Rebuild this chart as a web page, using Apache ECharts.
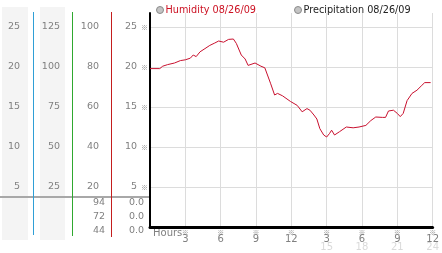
<!DOCTYPE html>
<html><head><meta charset="utf-8">
<script src="https://cdn.jsdelivr.net/npm/echarts@6/dist/echarts.min.js"></script>
<style>html,body{margin:0;padding:0;background:#fff}#c{width:442px;height:253px}</style>
</head><body><div id="c"></div>
<script>
// ---- data ----
const seriesNames = ['Humidity 08/26/09', 'Precipitation 08/26/09'];
const hours = [0, 0.83, 1.08, 1.5, 2.08, 2.58, 3.0, 3.42, 3.67, 3.92, 4.25, 4.67, 5.08, 5.5, 5.83, 6.25, 6.67, 7.08, 7.33, 7.75, 8.08, 8.33, 8.92, 9.42, 9.75, 10.25, 10.58, 10.83, 11.25, 11.92, 12.5, 12.92, 13.33, 13.58, 13.92, 14.17, 14.42, 14.75, 15.0, 15.25, 15.42, 15.67, 16.08, 16.67, 17.25, 17.75, 18.33, 18.75, 19.17, 19.75, 20.0, 20.25, 20.67, 21.0, 21.25, 21.5, 21.83, 22.25, 22.67, 23.08, 23.33, 23.83];
const humidity = [19.8, 19.8, 20.1, 20.3, 20.5, 20.8, 20.9, 21.1, 21.5, 21.3, 21.9, 22.3, 22.7, 23.0, 23.25, 23.1, 23.45, 23.5, 22.95, 21.5, 21.0, 20.2, 20.5, 20.1, 19.9, 17.9, 16.5, 16.7, 16.4, 15.7, 15.2, 14.4, 14.8, 14.6, 14.0, 13.5, 12.3, 11.5, 11.25, 11.7, 12.1, 11.5, 11.9, 12.5, 12.4, 12.5, 12.7, 13.3, 13.75, 13.7, 13.7, 14.5, 14.6, 14.2, 13.8, 14.2, 15.8, 16.7, 17.1, 17.7, 18.05, 18.05];
const precipitation = [];
const hourTicks12 = {3:'3',6:'6',9:'9',12:'12',15:'3',18:'6',21:'9',24:'12'};
const hourTicks24 = {15:'15',18:'18',21:'21',24:'24'};
const humidityStats = ['94', '72', '44'];
const precipStats = ['0.0', '0.0', '0.0'];
const axisScales = [1, 5, 4, 1]; // left label columns relative to plot units

// ---- chart ----
const FONT = 'DejaVu Sans';
const YMAX = 26.75;
const chart = echarts.init(document.getElementById('c'), null, {renderer: 'canvas'});

function colAxis(scale, offset) {
  return {
    type: 'value', position: 'left', offset: offset,
    min: 0, max: YMAX * scale, interval: 5 * scale,
    axisLine: {show: false}, axisTick: {show: false}, splitLine: {show: false},
    axisLabel: {showMinLabel: false, showMaxLabel: false, margin: 0,
      color: '#808080', fontSize: 9.5, fontFamily: FONT}
  };
}

const statText = [];
const rowY = [204, 218, 232];
humidityStats.forEach((t, i) => statText.push({type: 'text', right: 442 - 105, top: rowY[i] - 6,
  style: {text: t, fill: '#808080', font: '9.5px ' + FONT}}));
precipStats.forEach((t, i) => statText.push({type: 'text', right: 442 - 144, top: rowY[i] - 6,
  style: {text: t, fill: '#808080', font: '9.5px ' + FONT}}));

chart.setOption({
  animation: false,
  textStyle: {fontFamily: FONT},
  grid: {left: 150, right: 4, top: 13, bottom: 26, containLabel: false},
  legend: {
    left: 151, top: 0, itemGap: 38, icon: 'circle', itemWidth: 7, itemHeight: 7,
    selectedMode: false,
    textStyle: {fontSize: 9.7, fontFamily: FONT, padding: [0, 0, 0, -3]},
    data: [
      {name: seriesNames[0], itemStyle: {color: '#c4c4c4', borderColor: '#8a8a8a', borderWidth: 1}, textStyle: {color: '#cc1122'}},
      {name: seriesNames[1], itemStyle: {color: '#c4c4c4', borderColor: '#8a8a8a', borderWidth: 1}, textStyle: {color: '#222'}}
    ]
  },
  graphic: [
    {type: 'rect', shape: {x: 2, y: 7, width: 26, height: 233}, style: {fill: '#f4f4f4'}, z: -10},
    {type: 'rect', shape: {x: 40, y: 7, width: 25, height: 233}, style: {fill: '#f4f4f4'}, z: -10},
    {type: 'rect', shape: {x: 0, y: 196, width: 150, height: 2}, style: {fill: '#a8a8a8'}},
    {type: 'rect', shape: {x: 33, y: 12, width: 1, height: 223}, style: {fill: '#2f9fd6'}, z: 20},
    {type: 'rect', shape: {x: 72, y: 12, width: 1, height: 224}, style: {fill: '#2fa82f'}, z: 20},
    {type: 'rect', shape: {x: 111, y: 12, width: 1, height: 225}, style: {fill: '#c41e1e'}, z: 20},
    {type: 'text', left: 153, top: 228, style: {text: 'Hours', fill: '#808080', font: '10px ' + FONT}}
  ].concat(statText),
  xAxis: {
    type: 'value', min: 0, max: 24, interval: 3,
    axisLine: {show: true, lineStyle: {color: '#000', width: 3}},
    axisTick: {show: false},
    splitLine: {show: true, showMinLine: false, lineStyle: {color: '#dcdcdc', width: 1}},
    axisLabel: {
      showMinLabel: false, margin: 3,
      formatter: v => '{m|※}\n{n|' + (hourTicks12[v] || '') + '}\n{f|' + (hourTicks24[v] || ' ') + '}',
      rich: {
        m: {fontSize: 7, lineHeight: 5, color: '#888', fontFamily: 'Noto Sans CJK SC'},
        n: {fontSize: 10, lineHeight: 8, color: '#808080', fontFamily: FONT},
        f: {fontSize: 10, lineHeight: 8, color: '#dadada', fontFamily: FONT}
      }
    }
  },
  yAxis: [
    {
      type: 'value', position: 'left', offset: 0, min: 0, max: YMAX, interval: 5,
      axisLine: {show: true, onZero: false, lineStyle: {color: '#000', width: 2}},
      axisTick: {show: false},
      splitLine: {show: true, showMinLine: false, showMaxLine: false, lineStyle: {color: '#dcdcdc', width: 1}},
      axisLabel: {showMinLabel: false, showMaxLabel: false, margin: 2, formatter: () => '※',
        color: '#888', fontSize: 7, fontFamily: 'Noto Sans CJK SC'}
    },
    colAxis(axisScales[3], 13),
    colAxis(axisScales[2], 51),
    colAxis(axisScales[1], 90),
    colAxis(axisScales[0], 130)
  ],
  series: [
    {
      name: seriesNames[0], type: 'line', yAxisIndex: 0, showSymbol: false, symbol: 'none',
      lineStyle: {color: '#c8102e', width: 1}, itemStyle: {color: '#c8102e'},
      data: hours.map((h, i) => [h, humidity[i]])
    },
    {
      name: seriesNames[1], type: 'bar', yAxisIndex: 0, itemStyle: {color: '#888'},
      data: precipitation
    }
  ]
});
</script></body></html>
